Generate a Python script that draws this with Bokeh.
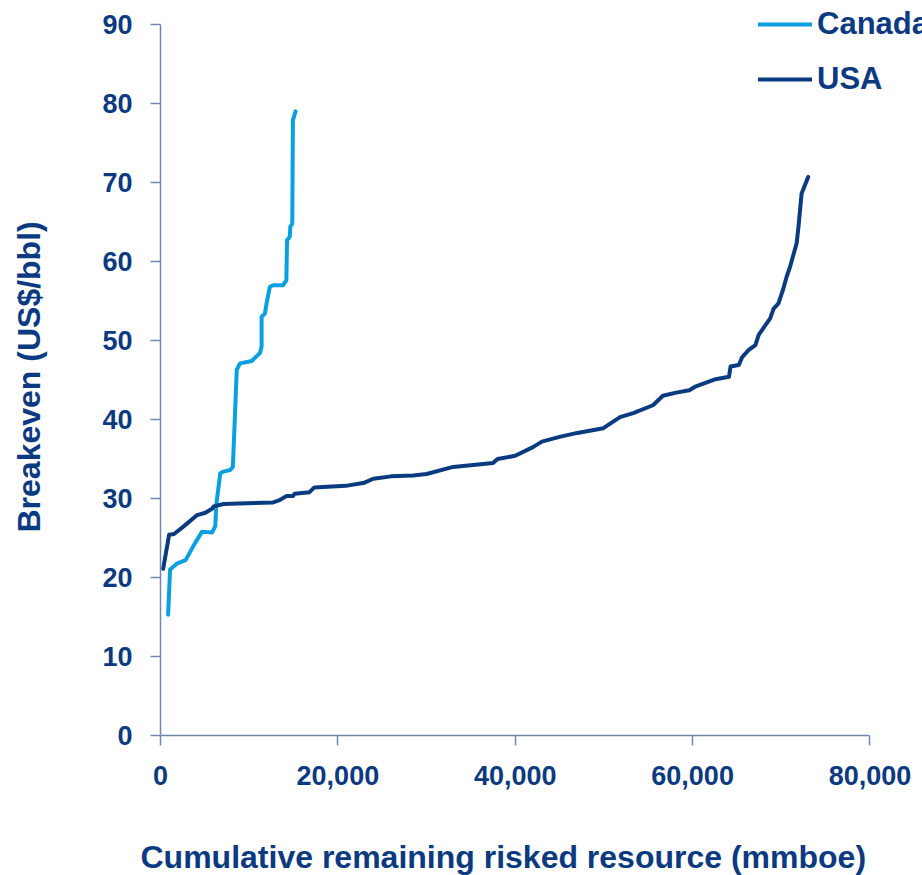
from bokeh.plotting import figure
from bokeh.models import Legend, LegendItem, FixedTicker, NumeralTickFormatter, Range1d, Title
from bokeh.embed import file_html
from bokeh.resources import INLINE

# ---- data ----
canada_x = [860, 1080, 1900, 2830, 3760, 4690, 5810, 6180, 6290, 6740, 7110, 7860, 8160,
            8600, 8970, 10280, 11210, 11400, 11400, 11770, 11960, 12330, 12700, 13820,
            14190, 14270, 14570, 14640, 14860, 14930, 15230]
canada_y = [15.3, 21.0, 21.8, 22.2, 24.1, 25.8, 25.7, 26.5, 29.2, 33.2, 33.4, 33.6, 34.0,
            46.3, 47.1, 47.4, 48.4, 49.2, 53.0, 53.4, 54.7, 56.8, 57.0, 57.0,
            57.6, 62.7, 63.1, 64.4, 64.8, 77.9, 79.0]

usa_x = [300, 970, 1530, 2650, 4130, 5060, 5810, 6000, 7110, 9720, 12700, 13440, 14190,
         14930, 15120, 16800, 17350, 20890, 23000, 24000, 26000, 28500, 30000, 33000,
         37500, 38000, 40000, 42000, 43000, 45000, 47000, 49940, 51810, 53300, 55530,
         56650, 58140, 59630, 60370, 62600, 64100, 64280, 65210, 65590, 66330, 67080,
         67450, 68190, 68750, 69120, 69680, 70240, 70610, 70980, 71730, 71920, 72290, 73030]
usa_y = [21.1, 25.4, 25.5, 26.5, 27.9, 28.2, 28.7, 29.0, 29.3, 29.4, 29.5, 29.8, 30.3,
         30.3, 30.6, 30.8, 31.4, 31.6, 32.0, 32.5, 32.8, 32.9, 33.1, 34.0,
         34.5, 35.0, 35.4, 36.5, 37.2, 37.8, 38.3, 38.9, 40.3, 40.8, 41.8,
         43.0, 43.4, 43.7, 44.2, 45.1, 45.4, 46.7, 46.9, 47.9, 48.8, 49.4,
         50.7, 51.9, 52.8, 54.0, 54.7, 56.6, 58.1, 59.3, 62.3, 64.2, 68.6, 70.7]

x_ticks = [0, 20000, 40000, 60000, 80000]
y_ticks = [0, 10, 20, 30, 40, 50, 60, 70, 80, 90]
x_label = "Cumulative remaining risked resource (mmboe)"
y_label = "Breakeven (US$/bbl)"

TEXT = "#0b3a80"
AXIS = "#7088b0"
FONT = "Liberation Sans"

# frame runs to the right and top edges so the legend (outside the axes) is not clipped
X_MAX = 80000 * 769 / 716
Y_MAX = 90 * 736 / 712

p = figure(width=922, height=875, output_backend="svg", toolbar_location=None,
           x_range=Range1d(0, X_MAX), y_range=Range1d(0, Y_MAX),
           min_border_left=153, min_border_right=0, min_border_top=0, min_border_bottom=139)
p.outline_line_color = None
p.grid.visible = False
p.background_fill_color = "white"
p.border_fill_color = "white"

r_can = p.line(canada_x, canada_y, line_color="#0aa0e0", line_width=4, line_join="round", line_cap="round")
r_usa = p.line(usa_x, usa_y, line_color="#0a3a80", line_width=4, line_join="round", line_cap="round")

for ax in (p.xaxis[0], p.yaxis[0]):
    ax.axis_line_color = AXIS
    ax.axis_line_width = 1.5
    ax.major_tick_line_color = AXIS
    ax.major_tick_line_width = 1.5
    ax.major_tick_out = 10
    ax.major_tick_in = 0
    ax.minor_tick_line_color = None
    ax.major_label_text_font = FONT
    ax.major_label_text_font_style = "bold"
    ax.major_label_text_font_size = "27px"
    ax.major_label_text_color = TEXT

p.xaxis[0].bounds = (0, 80000)
p.xaxis[0].ticker = FixedTicker(ticks=x_ticks)
p.xaxis[0].formatter = NumeralTickFormatter(format="0,0")
p.xaxis[0].major_label_standoff = 20

p.yaxis[0].bounds = (0, 90)
p.yaxis[0].ticker = FixedTicker(ticks=y_ticks)
p.yaxis[0].major_label_standoff = 18

# axis titles; an empty line on the axis side pushes the text further out
xt = Title(text="\n" + x_label, align="left", offset=-20, standoff=0, text_line_height=1.39,
           text_font=FONT, text_font_style="bold", text_font_size="32px", text_color=TEXT)
p.add_layout(xt, "below")
yt = Title(text=y_label + "\n", align="left", offset=203, standoff=17, text_line_height=1.22,
           text_font=FONT, text_font_style="bold", text_font_size="32px", text_color=TEXT)
p.add_layout(yt, "left")

legend = Legend(items=[LegendItem(label="Canada", renderers=[r_can]),
                       LegendItem(label="USA", renderers=[r_usa])],
                location=(598, 638), padding=0, margin=0, spacing=19,
                glyph_width=54, glyph_height=30, label_height=30, label_standoff=5,
                label_text_font=FONT, label_text_font_style="bold",
                label_text_font_size="31px", label_text_color=TEXT,
                border_line_color=None, background_fill_alpha=0)
p.add_layout(legend, "center")

open("out.html", "w").write(file_html(p, INLINE))
